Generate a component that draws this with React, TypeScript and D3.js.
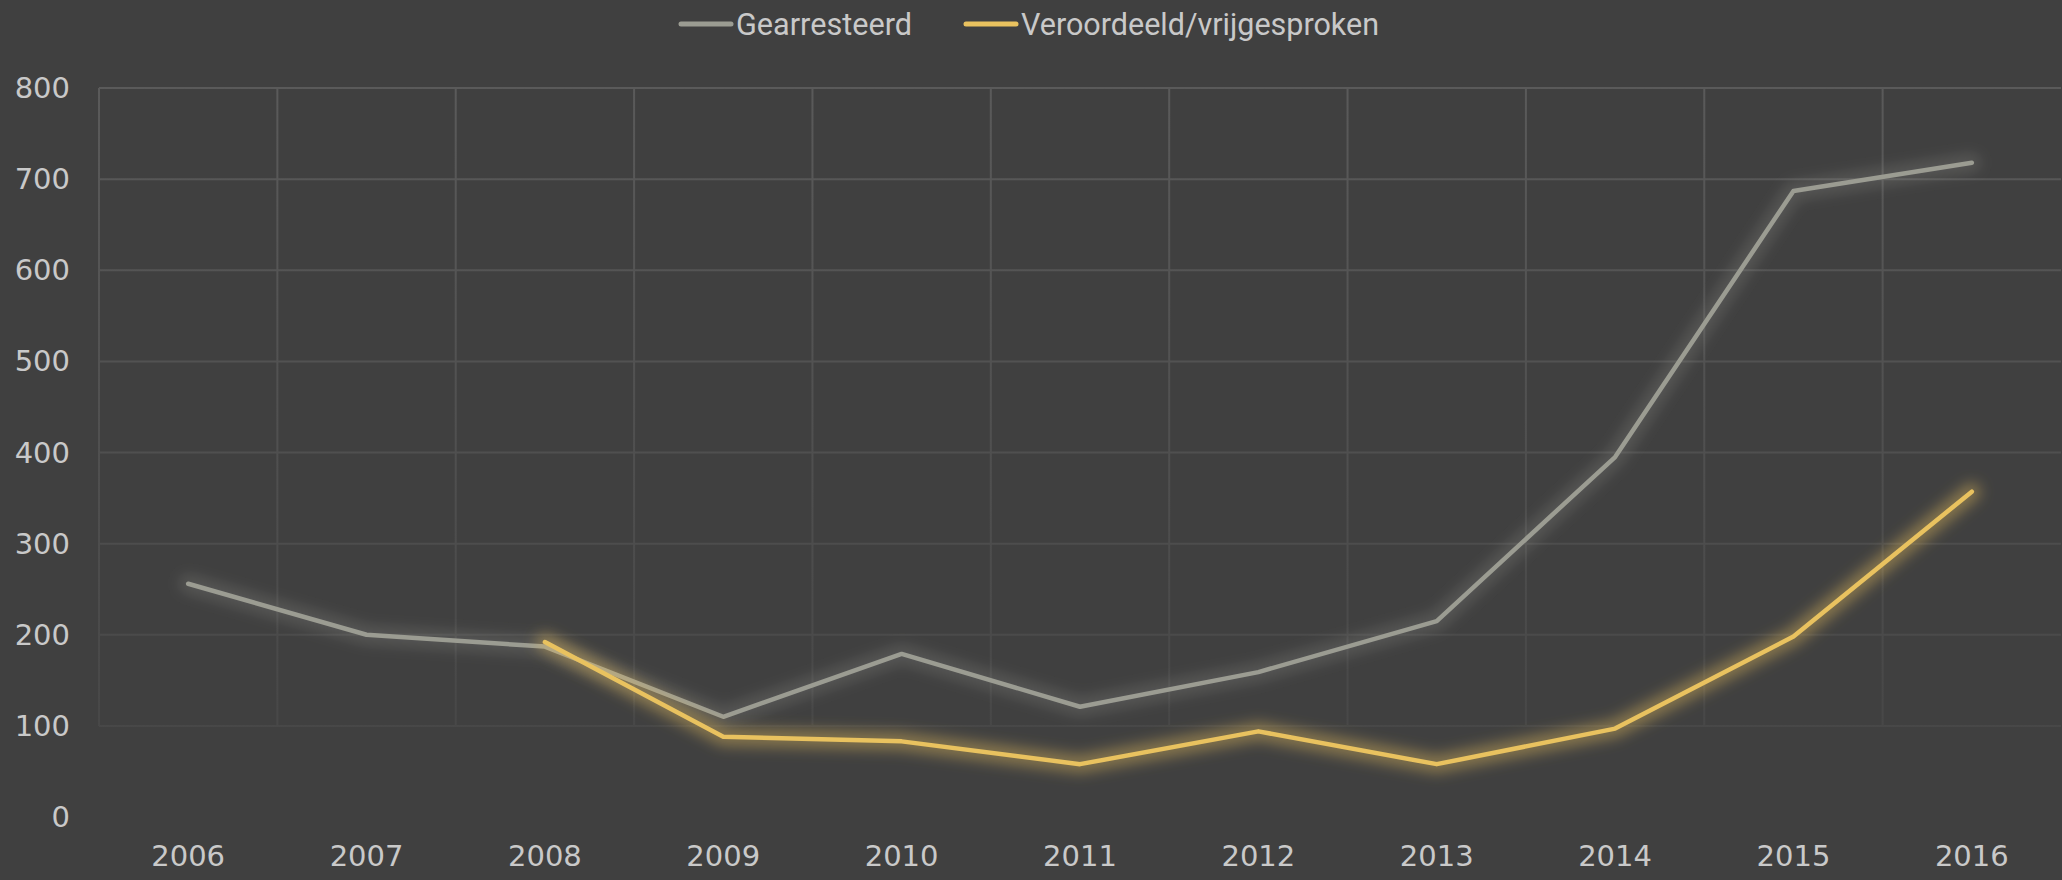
import React, { useEffect, useRef } from 'react';
import * as d3 from 'd3';

const years = ['2006', '2007', '2008', '2009', '2010', '2011', '2012', '2013', '2014', '2015', '2016'];
const gearresteerd = [256, 200, 187, 110, 179, 121, 159, 215, 395, 687, 718];
// veroordeeld/vrijgesproken starts in 2008
const veroordeeld = [null, null, 192, 88, 83, 58, 94, 58, 97, 198, 357];
const yTicks = [0, 100, 200, 300, 400, 500, 600, 700, 800];

const seriesNames = ['Gearresteerd', 'Veroordeeld/vrijgesproken'];
const seriesColors = ['#9b9c92', '#e9c25f'];

const W = 2062;
const H = 880;

const App = () => {
  const svgRef = useRef(null);

  useEffect(() => {
    document.body.style.margin = '0';
    if (!svgRef.current) return;
    const root = d3.select(svgRef.current);
    root.selectAll('*').remove();

    const margin = { left: 99, right: 1, top: 88, bottom: 63 };
    const x = d3.scaleBand().domain(years).range([margin.left, W - margin.right]);
    const y = d3.scaleLinear().domain([0, 800]).range([H - margin.bottom, margin.top]);

    root.append('rect').attr('width', W).attr('height', H).attr('fill', '#404040');

    const defs = root.append('defs');
    const grad = defs.append('linearGradient')
      .attr('id', 'gridFade')
      .attr('gradientUnits', 'userSpaceOnUse')
      .attr('x1', 0).attr('y1', margin.top).attr('x2', 0).attr('y2', H - margin.bottom);
    grad.append('stop').attr('offset', '0%').attr('stop-color', '#5a5a5a');
    grad.append('stop').attr('offset', '100%').attr('stop-color', '#454545');

    seriesColors.forEach((c, i) => {
      const f = defs.append('filter').attr('id', `glow${i}`)
        .attr('x', '-10%').attr('y', '-30%').attr('width', '120%').attr('height', '160%');
      f.append('feGaussianBlur').attr('in', 'SourceGraphic').attr('stdDeviation', 7);
    });

    const grid = root.append('g');
    grid.selectAll('.hgrid')
      .data(yTicks.filter(t => t > 0))
      .join('line')
      .attr('x1', margin.left).attr('x2', W - margin.right)
      .attr('y1', d => y(d)).attr('y2', d => y(d))
      .attr('stroke', 'url(#gridFade)')
      .attr('stroke-width', 2);
    grid.selectAll('.vgrid')
      .data(years)
      .join('line')
      .attr('x1', d => x(d)).attr('x2', d => x(d))
      .attr('y1', margin.top).attr('y2', y(100))
      .attr('stroke', 'url(#gridFade)')
      .attr('stroke-width', 2);

    const axisFont = '"DejaVu Sans", sans-serif';
    root.append('g').selectAll('text')
      .data(yTicks)
      .join('text')
      .attr('x', 70)
      .attr('y', d => y(d) + 10)
      .attr('text-anchor', 'end')
      .attr('font-family', axisFont)
      .attr('font-size', 29)
      .attr('fill', '#c9c9c9')
      .text(d => d);

    root.append('g').selectAll('text')
      .data(years)
      .join('text')
      .attr('x', d => x(d) + x.bandwidth() / 2)
      .attr('y', 866)
      .attr('text-anchor', 'middle')
      .attr('font-family', axisFont)
      .attr('font-size', 29)
      .attr('fill', '#c9c9c9')
      .text(d => d);

    const line = d3.line()
      .defined(d => d != null)
      .x((d, i) => x(years[i]) + x.bandwidth() / 2)
      .y(d => y(d));

    [gearresteerd, veroordeeld].forEach((vals, i) => {
      root.append('path')
        .attr('d', line(vals))
        .attr('fill', 'none')
        .attr('stroke', seriesColors[i])
        .attr('stroke-width', 18)
        .attr('stroke-opacity', i === 0 ? 0.25 : 0.42)
        .attr('stroke-linejoin', 'round')
        .attr('stroke-linecap', 'round')
        .attr('filter', `url(#glow${i})`);
      root.append('path')
        .attr('d', line(vals))
        .attr('fill', 'none')
        .attr('stroke', seriesColors[i])
        .attr('stroke-width', 4.5)
        .attr('stroke-linejoin', 'round')
        .attr('stroke-linecap', 'round');
    });

    // legend
    const legendItems = [
      { x1: 681, x2: 731, tx: 736, tw: 176 },
      { x1: 966, x2: 1016, tx: 1021, tw: 358 }
    ];
    const lg = root.append('g');
    legendItems.forEach((it, i) => {
      lg.append('line')
        .attr('x1', it.x1).attr('x2', it.x2)
        .attr('y1', 24).attr('y2', 24)
        .attr('stroke', seriesColors[i])
        .attr('stroke-width', 5)
        .attr('stroke-linecap', 'round');
      lg.append('text')
        .attr('x', it.tx)
        .attr('y', 35)
        .attr('font-family', '"Liberation Sans Narrow", Roboto, sans-serif')
        .attr('font-size', 31)
        .attr('fill', '#c9c9c9')
        .attr('textLength', it.tw)
        .attr('lengthAdjust', 'spacingAndGlyphs')
        .text(seriesNames[i]);
    });
  }, []);

  return (
    <svg
      ref={svgRef}
      width={W}
      height={H}
      style={{ position: 'absolute', left: 0, top: 0, display: 'block' }}
    />
  );
};

export default App;
